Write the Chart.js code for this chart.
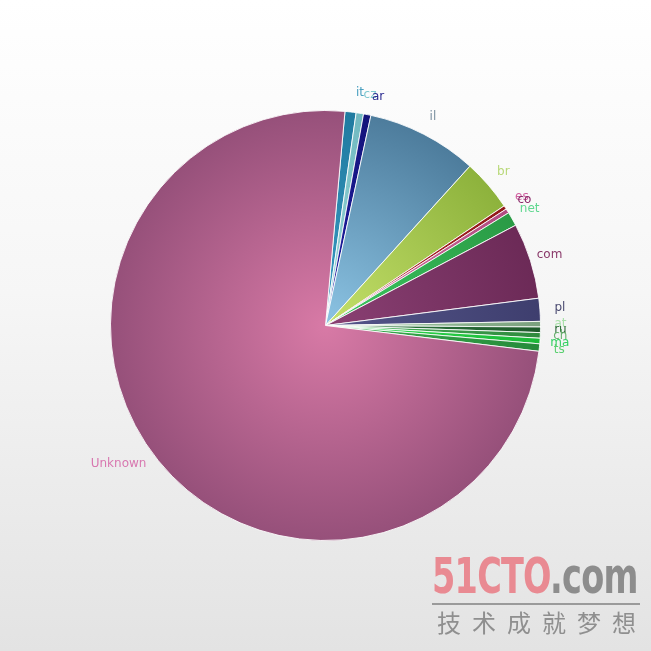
<!DOCTYPE html>
<html>
<head>
<meta charset="utf-8">
<script src="https://cdn.jsdelivr.net/npm/chart.js@4.4.1/dist/chart.umd.min.js"></script>
<style>
html,body{margin:0;padding:0;}
body{width:651px;height:651px;background:linear-gradient(#ffffff 0%,#f6f6f6 45%,#e3e3e3 100%);position:relative;overflow:hidden;}
#wrap{position:absolute;left:0;top:0;width:651px;height:651px;}
#wm1{position:absolute;left:432px;top:548px;font-family:"Liberation Sans Narrow","DejaVu Sans Condensed",sans-serif;font-weight:bold;font-size:50px;letter-spacing:-1px;line-height:56px;white-space:nowrap;transform:scaleX(0.745);transform-origin:0 0;}
#wm1 .a{color:#e98a92;}
#wm1 .b{color:#8d8d8d;}
#wmline{position:absolute;left:432px;top:603px;width:208px;height:2px;background:#9a9a9a;}
#wm2{position:absolute;left:437px;top:607px;font-family:"Noto Sans CJK SC",sans-serif;font-size:24px;color:#8f8f8f;letter-spacing:11px;line-height:30px;white-space:nowrap;}
</style>
</head>
<body>
<div id="wrap"><canvas id="c" width="651" height="651"></canvas></div>
<div id="wm1"><span class="a">51CTO</span><span class="b">.com</span></div>
<div id="wmline"></div>
<div id="wm2">技术成就梦想</div>
<script>
const categories = ["it","cz","ar","il","br","es","co","net","com","pl","at","ru","ch","ma","ts","Unknown"];
const values = [3.0, 2.0, 2.0, 30.0, 14.0, 1.0, 1.2, 3.8, 20.5, 6.2, 1.5, 1.5, 1.5, 1.5, 2.0, 268.3];
const innerColors = ["#3a9cc4","#9adada","#1e1ea8","#8cc4e4","#c4e06a","#c03030","#e07aa8","#3cc860","#8a4073","#55568a","#a8d0a8","#2f7a40","#48b058","#2ee050","#3ab050","#d87aa6"];
const outerColors = ["#1f7aa0","#70b8c0","#14147a","#4d7c9c","#8db23c","#901818","#b04a80","#2a9a45","#6c2a57","#3e3e6e","#7aa07e","#1f5a2c","#2f8a3e","#1cb838","#268a3a","#96507a"];
const labelColors = ["#4aa0c0","#80c8d0","#2a2a90","#7a90a0","#b8d878","#d060a0","#8a2a6a","#60d890","#8a3a6a","#4a4a70","#a8e0a8","#2f6a3a","#6ab070","#30d060","#5ad070","#d878b0"];

function grad(ctx, i){
  const chart = ctx.chart;
  const a = chart.chartArea;
  if(!a) return innerColors[i];
  const cx=(a.left+a.right)/2, cy=(a.top+a.bottom)/2;
  const r=Math.min(a.right-a.left,a.bottom-a.top)/2;
  const g=chart.ctx.createRadialGradient(cx,cy,0,cx,cy,r);
  g.addColorStop(0,innerColors[i]);
  g.addColorStop(1,outerColors[i]);
  return g;
}

const outsideLabels = {
  id:'outsideLabels',
  afterDatasetsDraw(chart){
    const ctx=chart.ctx;
    const meta=chart.getDatasetMeta(0);
    ctx.save();
    ctx.font='12px "DejaVu Sans", sans-serif';
    ctx.textAlign='center';
    ctx.textBaseline='middle';
    meta.data.forEach((arc,i)=>{
      const p=arc.getProps(['x','y','startAngle','endAngle','outerRadius']);
      let mid=(p.startAngle+p.endAngle)/2;
      let rr=p.outerRadius+20;
      if(categories[i]==="Unknown"){ mid+=0.09; rr=p.outerRadius+34; }
      if(i<3){ mid+=0.03; }
      ctx.fillStyle=labelColors[i];
      ctx.fillText(chart.data.labels[i], p.x+Math.cos(mid)*rr, p.y+Math.sin(mid)*rr);
    });
    ctx.restore();
  }
};

new Chart(document.getElementById('c'),{
  type:'pie',
  data:{labels:categories,datasets:[{data:values,
    backgroundColor:(ctx)=>grad(ctx,ctx.dataIndex),
    borderColor:'rgba(255,255,255,0.85)',borderWidth:1}]},
  options:{
    responsive:false,animation:false,
    rotation:5.2,
    layout:{padding:110},
    plugins:{legend:{display:false},tooltip:{enabled:false}}
  },
  plugins:[outsideLabels]
});
</script>
</body>
</html>
